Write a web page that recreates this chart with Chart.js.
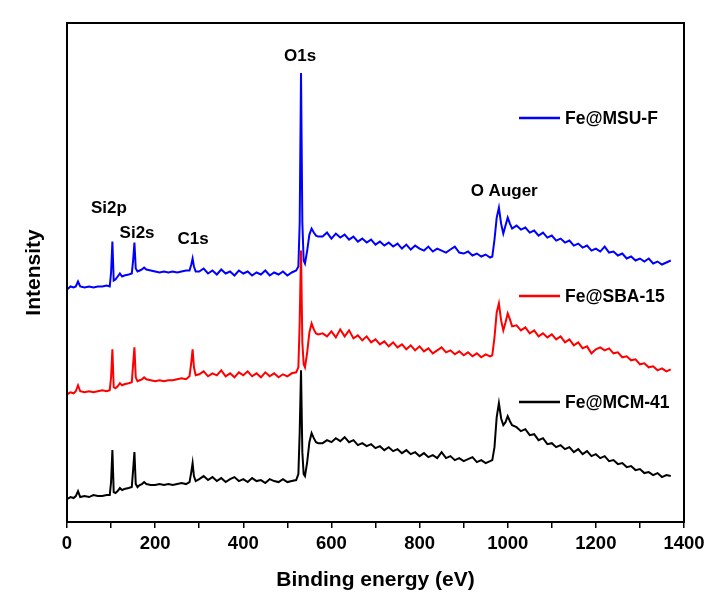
<!DOCTYPE html>
<html>
<head>
<meta charset="utf-8">
<script src="https://cdn.jsdelivr.net/npm/chart.js@4"></script>
<style>
  html, body { margin: 0; padding: 0; background: #fff; }
  #wrap { width: 713px; height: 597px; }
</style>
</head>
<body>
<div id="wrap"><canvas id="c" width="713" height="597"></canvas></div>
<script>
// binding energy grid (eV)
const energy = [
  0, 8, 15, 20, 25, 30, 40, 50, 60, 70, 80, 90, 97,
  100, 103, 106, 110, 115, 120, 125, 130, 140, 147,
  150, 153, 156, 160, 165, 170, 175, 180, 190, 200,
  210, 220, 230, 240, 250, 260, 270, 278, 282, 285, 288, 292,
  300, 310, 320, 330, 340, 350, 360, 370, 380, 390, 400, 410, 420, 430, 440, 450, 460, 470, 480, 490, 500, 510, 520,
  525, 528, 531, 534, 537, 540, 545, 550, 555, 560, 565, 570,
  580, 590, 600, 610, 620, 630, 640, 650, 660, 670, 680, 690, 700, 710, 720, 730, 740, 750, 760, 770,
  780, 790, 800, 810, 820, 830, 840, 850, 860, 870, 880, 890, 900, 910, 920, 930, 940, 950, 960,
  965, 970, 975, 980, 985, 990, 995, 1000, 1005, 1010,
  1020, 1030, 1040, 1050, 1060, 1070, 1080, 1090, 1100, 1110, 1120, 1130, 1140, 1150, 1160, 1170, 1180, 1190,
  1200, 1210, 1220, 1230, 1240, 1250, 1260, 1270, 1280, 1290, 1300, 1310, 1320, 1330, 1340, 1350, 1360, 1370
];

// intensities (arb. units, stacked with offsets)
const mcm41 = [
  23, 25, 24, 26, 31, 25, 26, 25, 27, 26, 26, 27, 27,
  40, 72, 30, 29, 31, 34, 32, 33, 34, 35,
  52, 70, 38, 35, 37, 38, 40, 38, 37, 37,
  38, 37, 38, 37, 38, 39, 38, 40, 50, 59, 46, 41,
  43, 46, 42, 45, 41, 44, 40, 43, 45, 41, 43, 40, 44, 41, 42, 39, 43, 41, 40, 43, 40, 41, 42,
  48, 90, 152, 70, 48, 46, 60, 80, 89, 84, 80, 79,
  79, 82, 80, 84, 81, 85, 80, 82, 77, 79, 76, 78, 74, 76, 72, 75, 71, 73, 69, 72,
  68, 70, 66, 69, 65, 67, 64, 70, 64, 66, 62, 64, 61, 63, 65, 60, 62, 59, 61,
  62, 75, 105, 119, 104, 97, 100, 106, 101, 97,
  95, 91, 93, 87, 88, 82, 84, 78, 79, 75, 77, 73, 75, 70, 73, 68, 71, 66,
  68, 64, 66, 61, 62, 58, 59, 55, 56, 52, 53, 49, 50, 47, 49, 45, 47, 46
];
const sba15 = [
  128, 130, 129, 131, 137, 131, 130, 131, 130, 131, 132, 131, 132,
  145, 173, 135, 134, 136, 139, 137, 138, 139, 140,
  158, 175, 145, 141, 142, 143, 145, 143, 142, 141,
  142, 141, 142, 142, 143, 144, 143, 146, 160, 173, 155, 147,
  148, 151, 146, 149, 147, 152, 146, 149, 145, 150, 147, 151, 146, 149, 145, 150, 146, 149, 145, 148, 146, 149, 150,
  155, 200, 272, 180, 158, 155, 170, 190, 199, 193, 189, 188,
  189, 186, 191, 185, 193, 186, 192, 184, 187, 182, 186, 180, 183, 178, 181, 176, 180, 175, 178, 173,
  177, 172, 176, 171, 174, 169, 172, 175, 170, 172, 168, 171, 167, 170, 166, 169, 165, 168, 166,
  167, 185, 210, 219, 202, 192, 200, 209, 203, 196,
  197, 192, 195, 189, 192, 186, 189, 185, 188, 183, 186, 180, 183, 177, 180, 174, 176, 169,
  173, 175, 172, 174, 169, 170, 165, 166, 162, 163, 158, 159, 155, 156, 152, 154, 151, 153
];
const msuF = [
  233, 236, 235, 236, 241, 236, 235, 236, 235, 236, 236, 237, 236,
  250, 281, 242, 243, 246, 249, 246, 247, 248, 249,
  262, 280, 254, 251, 252, 253, 255, 253, 252, 251,
  250, 251, 250, 251, 250, 251, 252, 252, 258, 264, 256, 251,
  251, 254, 249, 252, 248, 253, 249, 251, 247, 252, 249, 251, 247, 250, 248, 252, 247, 250, 248, 251, 247, 250, 252,
  256, 300, 450, 300, 262, 259, 272, 288, 294, 290, 287, 286,
  286, 290, 284, 289, 285, 288, 283, 286, 281, 284, 280, 283, 278, 281, 277, 280, 276, 279, 274, 278,
  273, 277, 274, 272, 276, 271, 274, 272, 270, 273, 276, 270, 269, 271, 267, 269, 266, 268, 265,
  266, 283, 305, 315, 299, 289, 297, 305, 299, 294,
  297, 293, 295, 290, 292, 287, 290, 285, 287, 282, 284, 280, 282, 277, 279, 275, 277, 272,
  274, 271, 276, 270, 271, 267, 269, 264, 266, 262, 264, 261, 264, 259, 261, 258, 260, 262
];

const seriesNames = ['Fe@MCM-41', 'Fe@SBA-15', 'Fe@MSU-F'];
const seriesColors = ['#000000', '#ff0000', '#0000ff'];
const xTicks = [0, 200, 400, 600, 800, 1000, 1200, 1400];

// peak labels: [text, energy, intensity]
const peakLabels = [
  ['Si2p', 95, 314],
  ['Si2s', 159, 289],
  ['C1s', 286, 283],
  ['O1s', 529, 467],
  ['O Auger', 992, 331]
];

const FONT = "'Liberation Sans', Arial, sans-serif";

const toPoints = (ys) => energy.map((e, i) => ({ x: e, y: ys[i] }));

const annotate = {
  id: 'annotate',
  afterDatasetsDraw(chart) {
    const { ctx, chartArea, scales } = chart;
    ctx.save();
    // frame
    ctx.strokeStyle = '#000';
    ctx.lineWidth = 2;
    ctx.strokeRect(chartArea.left, chartArea.top, chartArea.right - chartArea.left, chartArea.bottom - chartArea.top);

    // peak labels
    ctx.fillStyle = '#000';
    ctx.font = 'bold 17px ' + FONT;
    ctx.textAlign = 'center';
    ctx.textBaseline = 'middle';
    peakLabels.forEach(([t, e, v]) => {
      ctx.fillText(t, scales.x.getPixelForValue(e), scales.y.getPixelForValue(v));
    });

    // legend, placed next to each curve
    const legendY = [402, 296, 118];
    ctx.textAlign = 'left';
    ctx.font = 'bold 17.5px ' + FONT;
    seriesNames.forEach((name, i) => {
      ctx.strokeStyle = seriesColors[i];
      ctx.lineWidth = 2.5;
      ctx.beginPath();
      ctx.moveTo(519, legendY[i]);
      ctx.lineTo(560, legendY[i]);
      ctx.stroke();
      ctx.fillStyle = '#000';
      ctx.fillText(name, 565, legendY[i] + 1);
    });
    ctx.restore();
  }
};

new Chart(document.getElementById('c'), {
  type: 'line',
  data: {
    datasets: [mcm41, sba15, msuF].map((ys, i) => ({
      label: seriesNames[i],
      data: toPoints(ys),
      borderColor: seriesColors[i],
      borderWidth: 2,
      pointRadius: 0,
      tension: 0,
      fill: false
    }))
  },
  options: {
    responsive: false,
    animation: false,
    events: [],
    layout: { padding: { left: 0, top: 23, right: 29, bottom: 0 } },
    plugins: { legend: { display: false }, tooltip: { enabled: false } },
    scales: {
      x: {
        type: 'linear',
        min: 0,
        max: 1400,
        afterFit: (s) => { s.height = 75; },
        afterBuildTicks: (s) => {
          const t = [];
          for (let v = 0; v <= 1400; v += 100) t.push({ value: v });
          s.ticks = t;
        },
        ticks: {
          autoSkip: false,
          maxRotation: 0,
          padding: 5,
          color: '#000',
          font: { family: FONT, size: 18.5, weight: 'bold' },
          callback: (v) => xTicks.includes(v) ? String(v) : ''
        },
        grid: {
          drawOnChartArea: false,
          drawTicks: true,
          tickLength: 6,
          color: '#000',
          lineWidth: 1.5
        },
        border: { display: false },
        title: {
          display: true,
          text: 'Binding energy (eV)',
          color: '#000',
          font: { family: FONT, size: 21, weight: 'bold' },
          padding: { top: 0, bottom: 4 }
        }
      },
      y: {
        min: 0,
        max: 500,
        afterFit: (s) => { s.width = 67; },
        ticks: { display: false },
        grid: { display: false },
        border: { display: false },
        title: {
          display: true,
          text: 'Intensity',
          color: '#000',
          font: { family: FONT, size: 21, weight: 'bold' },
          padding: { top: 22, bottom: 0 }
        }
      }
    }
  },
  plugins: [annotate]
});
</script>
</body>
</html>
